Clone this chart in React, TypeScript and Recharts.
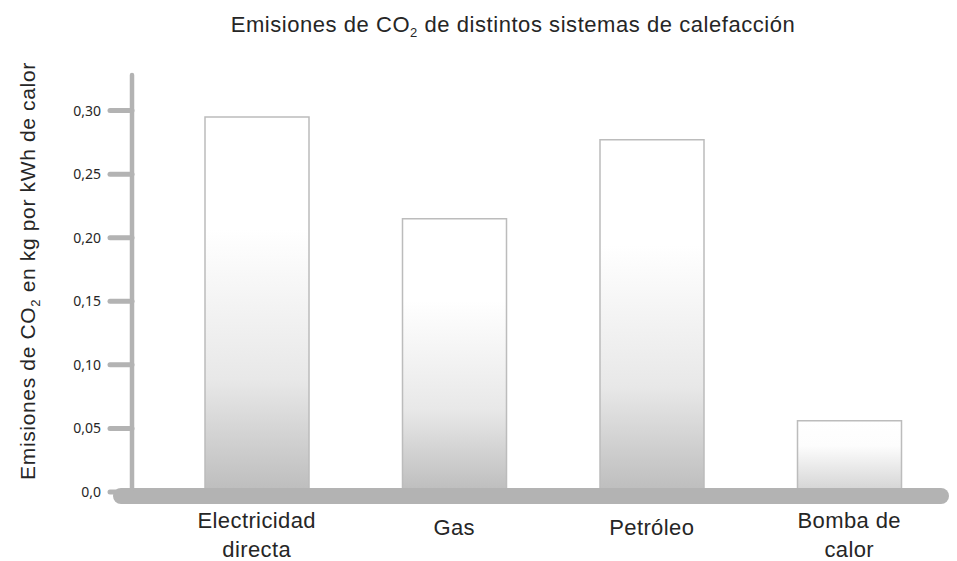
import { BarChart, Bar, XAxis, YAxis, ReferenceLine, Cell } from "recharts";

// kg CO2 per kWh of heat
const categories = ["Electricidad\ndirecta", "Gas", "Petróleo", "Bomba de\ncalor"];
const emissions = [0.295, 0.215, 0.277, 0.056];
const yTicks = [0, 0.05, 0.1, 0.15, 0.2, 0.25, 0.3];

const chartData = categories.map((c, i) => ({ sistema: c, valor: emissions[i] }));

const AXIS_GRAY = "#b3b3b3";
const TEXT = "#262626";
const FONT = "'Liberation Sans', Arial, sans-serif";

const formatTick = (v: number) => (v === 0 ? "0,0" : v.toFixed(2).replace(".", ","));

function CategoryTick(props: any) {
  const { x, y, payload } = props;
  const lines = String(payload.value).split("\n");
  const first = lines.length > 1 ? 36 : 43;
  return (
    <text
      x={x}
      y={y}
      textAnchor="middle"
      fill={TEXT}
      fontSize={22}
      letterSpacing={0.4}
      fontFamily={FONT}
    >
      {lines.map((l, i) => (
        <tspan key={i} x={x} dy={i === 0 ? first : 29}>
          {l}
        </tspan>
      ))}
    </text>
  );
}

export default function App() {
  return (
    <div style={{ position: "absolute", left: 0, top: 0, width: 957, height: 561, background: "#fff" }}>
      <BarChart
        width={957}
        height={561}
        data={chartData}
        margin={{ top: 75, right: 9, left: 0, bottom: 0 }}
      >
        <XAxis
          dataKey="sistema"
          axisLine={false}
          tickLine={false}
          tickSize={0}
          tickMargin={0}
          height={69}
          interval={0}
          padding={{ left: 26, right: 0 }}
          tick={<CategoryTick />}
        />
        <YAxis
          width={132}
          domain={[0, 0.328]}
          ticks={yTicks}
          tickFormatter={formatTick}
          axisLine={{ stroke: AXIS_GRAY, strokeWidth: 4.5, strokeLinecap: "round" }}
          tickLine={{ stroke: AXIS_GRAY, strokeWidth: 5, strokeLinecap: "round" }}
          tickSize={22}
          tickMargin={9}
          tick={{ fill: TEXT, fontSize: 14, fontFamily: "'Noto Sans', sans-serif" }}
        />
        <Bar
          dataKey="valor"
          barSize={104}
          stroke="#bcbcbc"
          strokeWidth={1.5}
          isAnimationActive={false}
        >
          {chartData.map((d, i) => (
            <Cell key={i} fill={d.valor < 0.1 ? "url(#fadeShort)" : "url(#fadeTall)"} />
          ))}
        </Bar>
        <ReferenceLine
          y={0}
          ifOverflow="visible"
          shape={(p: any) => (
            <line
              x1={p.x1 - 11}
              y1={p.y1 + 4}
              x2={p.x2 - 7}
              y2={p.y2 + 4}
              stroke={AXIS_GRAY}
              strokeWidth={16}
              strokeLinecap="round"
            />
          )}
        />
      </BarChart>
      <svg
        width={957}
        height={561}
        style={{ position: "absolute", left: 0, top: 0, pointerEvents: "none" }}
      >
        <defs>
          <linearGradient id="fadeTall" x1="0" y1="0" x2="0" y2="1">
            <stop offset="0" stopColor="#ffffff" />
            <stop offset="0.3" stopColor="#ffffff" />
            <stop offset="0.7" stopColor="#e8e8e8" />
            <stop offset="1" stopColor="#bdbdbd" />
          </linearGradient>
          <linearGradient id="fadeShort" x1="0" y1="0" x2="0" y2="1">
            <stop offset="0" stopColor="#ffffff" />
            <stop offset="0.35" stopColor="#fdfdfd" />
            <stop offset="1" stopColor="#d3d3d3" />
          </linearGradient>
        </defs>
        <text
          x={513}
          y={32}
          textAnchor="middle"
          fill={TEXT}
          fontSize={22}
          letterSpacing={0.55}
          fontFamily={FONT}
        >
          Emisiones de CO
          <tspan fontSize={13} dy={5}>2</tspan>
          <tspan dy={-5}> de distintos sistemas de calefacción</tspan>
        </text>
        <text
          transform="translate(35, 271) rotate(-90)"
          textAnchor="middle"
          fill={TEXT}
          fontSize={21}
          letterSpacing={0.65}
          fontFamily={FONT}
        >
          Emisiones de CO
          <tspan fontSize={13} dy={5}>2</tspan>
          <tspan dy={-5}> en kg por kWh de calor</tspan>
        </text>
      </svg>
    </div>
  );
}
